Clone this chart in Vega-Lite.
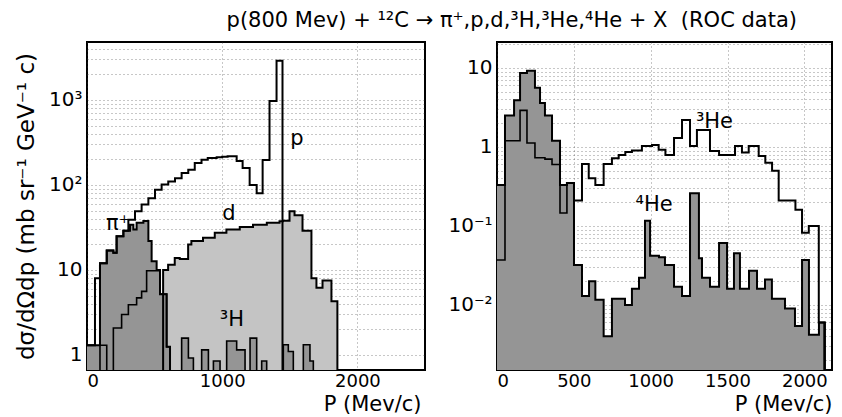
{
  "$schema": "https://vega.github.io/schema/vega-lite/v6.json",
  "background": "white",
  "padding": {"left": 14, "top": 10, "right": 5, "bottom": 2},
  "title": {"text": "p(800 Mev) + ¹²C → π⁺,p,d,³H,³He,⁴He + X \u00a0(ROC data)", "font": "DejaVu Sans", "fontSize": 21, "fontWeight": "normal", "color": "black", "anchor": "middle", "dx": 88, "offset": 10},
  "config": {
    "view": {"stroke": "black", "strokeWidth": 2},
    "axis": {"grid": true, "gridColor": "#333", "gridDash": [1, 3], "gridOpacity": 0.55, "gridWidth": 1, "domain": false, "ticks": false, "labelFont": "DejaVu Sans", "labelFontSize": 20, "labelColor": "black", "titleFont": "DejaVu Sans", "titleFontSize": 23, "titleFontWeight": "normal", "titleColor": "black", "labelPadding": 5}
  },
  "datasets": {
    "pion": [{"P":0,"v":1.3},{"P":96,"v":12},{"P":146,"v":17},{"P":195,"v":16},{"P":219,"v":25},{"P":269,"v":29},{"P":318,"v":34},{"P":343,"v":30},{"P":367,"v":36},{"P":417,"v":37.6},{"P":454,"v":22},{"P":478,"v":12.7},{"P":515,"v":10},{"P":540,"v":5.2},{"P":589,"v":1.25},{"P":614,"v":0.0001}],
    "proton": [{"P":0,"v":1.3},{"P":59,"v":8},{"P":96,"v":12},{"P":146,"v":17},{"P":195,"v":16},{"P":219,"v":25},{"P":269,"v":29},{"P":306,"v":39},{"P":355,"v":49},{"P":404,"v":59},{"P":454,"v":70},{"P":503,"v":88},{"P":552,"v":101},{"P":601,"v":110},{"P":651,"v":120},{"P":700,"v":138},{"P":749,"v":151},{"P":797,"v":182},{"P":847,"v":198},{"P":893,"v":208},{"P":959,"v":212},{"P":1000,"v":215},{"P":1040,"v":218},{"P":1107,"v":191},{"P":1151,"v":158},{"P":1203,"v":100},{"P":1255,"v":80},{"P":1299,"v":197},{"P":1350,"v":970},{"P":1402,"v":2900},{"P":1446,"v":0.0001}],
    "deuteron": [{"P":563,"v":0.0001},{"P":563,"v":10},{"P":600,"v":11.5},{"P":649,"v":13.8},{"P":686,"v":13.5},{"P":748,"v":20},{"P":772,"v":22},{"P":858,"v":24},{"P":945,"v":27.5},{"P":1031,"v":30},{"P":1130,"v":32},{"P":1228,"v":34},{"P":1330,"v":36},{"P":1424,"v":37.5},{"P":1449,"v":38},{"P":1498,"v":49},{"P":1535,"v":44},{"P":1594,"v":29},{"P":1660,"v":8},{"P":1697,"v":6.2},{"P":1742,"v":7.5},{"P":1808,"v":4.3},{"P":1852,"v":0.0001}],
    "triton": [{"P":0,"v":0.3},{"P":96,"v":1.3},{"P":146,"v":0.3},{"P":195,"v":2.08},{"P":256,"v":3.0},{"P":306,"v":3.9},{"P":367,"v":4.7},{"P":404,"v":5.6},{"P":441,"v":9.8},{"P":515,"v":9.8},{"P":540,"v":5.2},{"P":589,"v":1.25},{"P":614,"v":0.3},{"P":700,"v":1.58},{"P":750,"v":0.92},{"P":787,"v":0.3},{"P":848,"v":1.15},{"P":898,"v":0.3},{"P":935,"v":0.85},{"P":984,"v":0.3},{"P":1033,"v":1.46},{"P":1107,"v":1.15},{"P":1169,"v":0.3},{"P":1206,"v":1.58},{"P":1255,"v":0.3},{"P":1292,"v":0.85},{"P":1329,"v":0.3},{"P":1452,"v":1.32},{"P":1489,"v":1.1},{"P":1526,"v":0.3},{"P":1600,"v":1.32},{"P":1649,"v":0.85},{"P":1674,"v":0.3},{"P":1700,"v":0.0001}],
    "labelsLeft": [{"P":229,"v":29.5,"t":"π⁺"},{"P":1553,"v":296,"t":"p"},{"P":1050,"v":38.7,"t":"d"},{"P":1072,"v":2.19,"t":"³H"}],
    "helium4": [{"P":0,"v":0.33},{"P":52,"v":2.5},{"P":111,"v":3.9},{"P":150,"v":8.6},{"P":195,"v":9.2},{"P":247,"v":5.6},{"P":280,"v":3.6},{"P":312,"v":2.5},{"P":358,"v":1.2},{"P":410,"v":0.33},{"P":455,"v":0.35},{"P":501,"v":0.032},{"P":553,"v":0.013},{"P":599,"v":0.02},{"P":640,"v":0.0116},{"P":694,"v":0.004},{"P":748,"v":0.012},{"P":794,"v":0.012},{"P":833,"v":0.01},{"P":878,"v":0.016},{"P":924,"v":0.022},{"P":963,"v":0.116},{"P":996,"v":0.042},{"P":1054,"v":0.04},{"P":1093,"v":0.032},{"P":1152,"v":0.017},{"P":1204,"v":0.013},{"P":1256,"v":0.26},{"P":1314,"v":0.039},{"P":1334,"v":0.022},{"P":1386,"v":0.017},{"P":1445,"v":0.061},{"P":1497,"v":0.016},{"P":1542,"v":0.045},{"P":1581,"v":0.016},{"P":1640,"v":0.027},{"P":1692,"v":0.016},{"P":1744,"v":0.021},{"P":1789,"v":0.012},{"P":1874,"v":0.009},{"P":1939,"v":0.0054},{"P":1985,"v":0.037},{"P":2030,"v":0.0042},{"P":2095,"v":0.006},{"P":2134,"v":0.00001}],
    "inner": [{"P":0,"v":0.037},{"P":52,"v":1.2},{"P":150,"v":2.9},{"P":195,"v":1.12},{"P":247,"v":0.73},{"P":312,"v":0.7},{"P":358,"v":0.6},{"P":410,"v":0.146},{"P":455,"v":0.35}],
    "helium3": [{"P":455,"v":0.35},{"P":501,"v":0.21},{"P":553,"v":0.61},{"P":597,"v":0.40},{"P":640,"v":0.33},{"P":694,"v":0.61},{"P":748,"v":0.72},{"P":792,"v":0.79},{"P":835,"v":0.86},{"P":878,"v":0.9},{"P":943,"v":1.03},{"P":1009,"v":1.06},{"P":1052,"v":0.92},{"P":1096,"v":0.79},{"P":1152,"v":1.3},{"P":1204,"v":2.2},{"P":1256,"v":1.03},{"P":1301,"v":1.64},{"P":1386,"v":0.89},{"P":1445,"v":0.79},{"P":1549,"v":1.03},{"P":1594,"v":0.85},{"P":1638,"v":1.03},{"P":1703,"v":0.77},{"P":1746,"v":0.63},{"P":1790,"v":0.5},{"P":1833,"v":0.21},{"P":1942,"v":0.16},{"P":1985,"v":0.082},{"P":2029,"v":0.1},{"P":2094,"v":0.006},{"P":2130,"v":0.00001}],
    "labelsRight": [{"P":1415,"v":1.74,"t":"³He"},{"P":1022,"v":0.155,"t":"⁴He"}]
  },
  "spacing": 20,
  "hconcat": [
    {
      "width": 338,
      "height": 328,
      "encoding": {
        "x": {"field": "P", "type": "quantitative", "scale": {"domain": [0, 2500], "nice": false, "zero": false},
              "axis": {"values": [0, 1000, 2000], "format": "d", "labelFontSize": 18, "labelPadding": 2, "title": "P (Mev/c)", "titleFontSize": 21, "titleAnchor": "end", "titleAlign": "right", "titleX": 334, "titleY": 40, "titleBaseline": "alphabetic"}},
        "y": {"field": "v", "type": "quantitative", "scale": {"type": "log", "domain": [0.666, 4810], "nice": false},
              "axis": {"values": [1,2,3,4,5,6,7,8,9,10,20,30,40,50,60,70,80,90,100,200,300,400,500,600,700,800,900,1000,2000,3000,4000],
                       "labelExpr": "datum.value == 1 ? '1' : datum.value == 10 ? '10' : datum.value == 100 ? '10²' : datum.value == 1000 ? '10³' : ''",
                       "title": "dσ/dΩdp (mb sr⁻¹ GeV⁻¹ c)", "titlePadding": 10}}
      },
      "layer": [
        {"data": {"name": "deuteron"}, "mark": {"type": "area", "interpolate": "step-after", "fill": "#c4c4c4", "clip": true}, "encoding": {"y2": {"datum": 0.000001}}},
        {"data": {"name": "pion"}, "mark": {"type": "area", "interpolate": "step-after", "fill": "#959595", "clip": true}, "encoding": {"y2": {"datum": 0.000001}}},
        {"data": {"name": "triton"}, "mark": {"type": "area", "interpolate": "step-after", "fill": "#959595", "clip": true}, "encoding": {"y2": {"datum": 0.000001}}},
        {"data": {"name": "deuteron"}, "mark": {"type": "line", "interpolate": "step-after", "color": "black", "strokeWidth": 2, "clip": true}},
        {"data": {"name": "pion"}, "mark": {"type": "line", "interpolate": "step-after", "color": "black", "strokeWidth": 2, "clip": true}},
        {"data": {"name": "triton"}, "mark": {"type": "line", "interpolate": "step-after", "color": "black", "strokeWidth": 1.6, "clip": true}},
        {"data": {"name": "proton"}, "mark": {"type": "line", "interpolate": "step-after", "color": "black", "strokeWidth": 2, "clip": true}},
        {"data": {"name": "labelsLeft"}, "mark": {"type": "text", "font": "DejaVu Sans", "fontSize": 21, "color": "black", "align": "center", "baseline": "alphabetic"}, "encoding": {"text": {"field": "t"}}}
      ]
    },
    {
      "width": 335,
      "height": 328,
      "encoding": {
        "x": {"field": "P", "type": "quantitative", "scale": {"domain": [0, 2180], "nice": false, "zero": false},
              "axis": {"values": [0, 500, 1000, 1500, 2000], "format": "d", "labelFontSize": 18, "labelPadding": 2, "title": "P (Mev/c)", "titleFontSize": 21, "titleAnchor": "end", "titleAlign": "right", "titleX": 335, "titleY": 40, "titleBaseline": "alphabetic"}},
        "y": {"field": "v", "type": "quantitative", "scale": {"type": "log", "domain": [0.0015, 21.3], "nice": false},
              "axis": {"values": [0.002,0.003,0.004,0.005,0.006,0.007,0.008,0.009,0.01,0.02,0.03,0.04,0.05,0.06,0.07,0.08,0.09,0.1,0.2,0.3,0.4,0.5,0.6,0.7,0.8,0.9,1,2,3,4,5,6,7,8,9,10,20],
                       "labelExpr": "datum.value == 0.01 ? '10⁻²' : datum.value == 0.1 ? '10⁻¹' : datum.value == 1 ? '1' : datum.value == 10 ? '10' : ''",
                       "title": null}}
      },
      "layer": [
        {"data": {"name": "helium4"}, "mark": {"type": "area", "interpolate": "step-after", "fill": "#959595", "clip": true}, "encoding": {"y2": {"datum": 0.0000001}}},
        {"data": {"name": "helium4"}, "mark": {"type": "line", "interpolate": "step-after", "color": "black", "strokeWidth": 2, "clip": true}},
        {"data": {"name": "inner"}, "mark": {"type": "line", "interpolate": "step-after", "color": "black", "strokeWidth": 1.6, "clip": true}},
        {"data": {"name": "helium3"}, "mark": {"type": "line", "interpolate": "step-after", "color": "black", "strokeWidth": 2, "clip": true}},
        {"data": {"name": "labelsRight"}, "mark": {"type": "text", "font": "DejaVu Sans", "fontSize": 21, "color": "black", "align": "center", "baseline": "alphabetic"}, "encoding": {"text": {"field": "t"}}}
      ]
    }
  ]
}
